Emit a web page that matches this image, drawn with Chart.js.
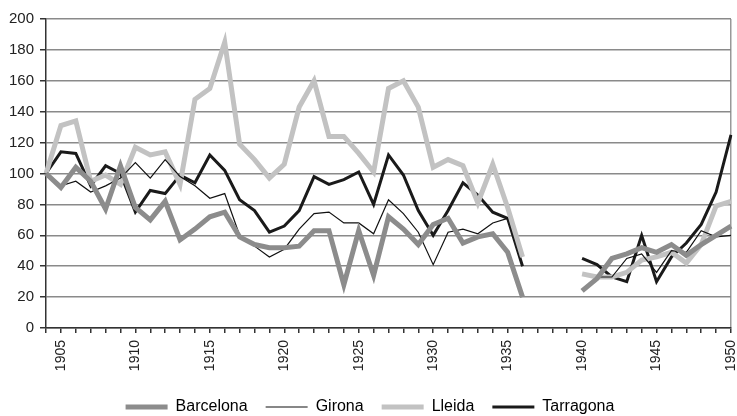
<!DOCTYPE html>
<html lang="en">
<head>
    <meta charset="UTF-8">
    <title>Index by province</title>
    <script src="https://cdn.jsdelivr.net/npm/chart.js"></script>
    <style>
        html, body { margin: 0; padding: 0; background: #fff; }
        #wrap { width: 737px; height: 416px; }
    </style>
</head>
<body>
    <div id="wrap"><canvas id="chart"></canvas></div>

    <script>
        // years 1904..1950, gap 1937-1939
        const years = [];
        for (let y = 1904; y <= 1950; y++) years.push(String(y));

        const barcelona = [100, 91, 104, 95, 77, 105, 78, 70, 82, 57,
            64, 72, 75, 59, 54, 52, 52, 53, 63, 63,
            28, 63, 34, 72, 64, 54, 67, 71, 55, 59,
            61, 49, 20, null, null, null,
            24, 32, 45, 48, 52, 49, 54, 47, 54, 60, 66];
        const girona = [100, 92, 95, 88, 92, 97, 107, 97, 109, 98,
            92, 84, 87, 60, 53, 46, 51, 64, 74, 75,
            68, 68, 61, 83, 74, 62, 41, 62, 64, 61,
            68, 71, null, null, null, null,
            null, 33, 33, 45, 48, 36, 50, 49, 63, 59, 60];
        const lleida = [100, 131, 134, 95, 99, 93, 117, 112, 114, 93,
            148, 155, 185, 119, 109, 97, 106, 143, 160, 124,
            124, 113, 101, 155, 160, 143, 104, 109, 105, 81,
            106, 78, 46, null, null, null,
            35, 33, 33, 36, 44, 46, 49, 42, 54, 79, 82];
        const tarragona = [100, 114, 113, 92, 105, 100, 75, 89, 87, 99,
            94, 112, 102, 83, 76, 62, 66, 76, 98, 93,
            96, 101, 80, 112, 99, 76, 60, 76, 94, 86,
            75, 71, 40, null, null, null,
            45, 41, 33, 30, 60, 30, 46, 55, 67, 88, 125];

        const yTicks = [0, 20, 40, 60, 80, 100, 120, 140, 160, 180, 200];

        Chart.defaults.font.family = '"Liberation Sans", Arial, sans-serif';
        Chart.defaults.color = '#222';

        const line = (label, data, color, width) => ({
            label: label,
            data: data,
            borderColor: color,
            backgroundColor: color,
            borderWidth: width,
            pointRadius: 0,
            tension: 0,
            spanGaps: false
        });

        new Chart(document.getElementById('chart'), {
            type: 'line',
            data: {
                labels: years,
                datasets: [
                    line('Barcelona', barcelona, '#8c8c8c', 5),
                    line('Girona', girona, '#111', 1.2),
                    line('Lleida', lleida, '#c2c2c2', 5),
                    line('Tarragona', tarragona, '#1a1a1a', 3)
                ]
            },
            options: {
                responsive: true,
                maintainAspectRatio: false,
                animation: false,
                layout: { padding: { top: 19, right: 0, left: 3, bottom: -9 } },
                plugins: {
                    tooltip: { enabled: false },
                    legend: {
                        position: 'bottom',
                        labels: {
                            usePointStyle: true,
                            pointStyleWidth: 42,
                            padding: 18,
                            font: { size: 16 },
                            generateLabels: chart => chart.data.datasets.map((ds, i) => ({
                                text: ds.label,
                                fillStyle: ds.borderColor,
                                strokeStyle: ds.borderColor,
                                lineWidth: ds.borderWidth,
                                pointStyle: 'line',
                                datasetIndex: i
                            }))
                        }
                    }
                },
                scales: {
                    x: {
                        afterFit: s => { s.height = 53; s.paddingRight = 6; },
                        grid: {
                            color: ctx => ctx.index === years.length - 1 ? '#999' : 'rgba(0,0,0,0)',
                            tickColor: '#333',
                            tickLength: 5,
                            lineWidth: 1.5
                        },
                        border: { color: '#333', width: 1.5 },
                        ticks: {
                            autoSkip: false,
                            minRotation: 90,
                            maxRotation: 90,
                            font: { size: 14 },
                            padding: 7,
                            callback: function (v, i) {
                                const y = years[i];
                                return Number(y) % 5 === 0 ? y : '';
                            }
                        }
                    },
                    y: {
                        min: 0,
                        max: 200,
                        afterBuildTicks: axis => { axis.ticks = yTicks.map(v => ({ value: v })); },
                        grid: { color: '#8a8a8a', lineWidth: 1.5, tickColor: '#333', tickLength: 6 },
                        border: { color: '#333', width: 1.5 },
                        ticks: { font: { size: 15 }, padding: 6 }
                    }
                }
            }
        });
    </script>
</body>
</html>
